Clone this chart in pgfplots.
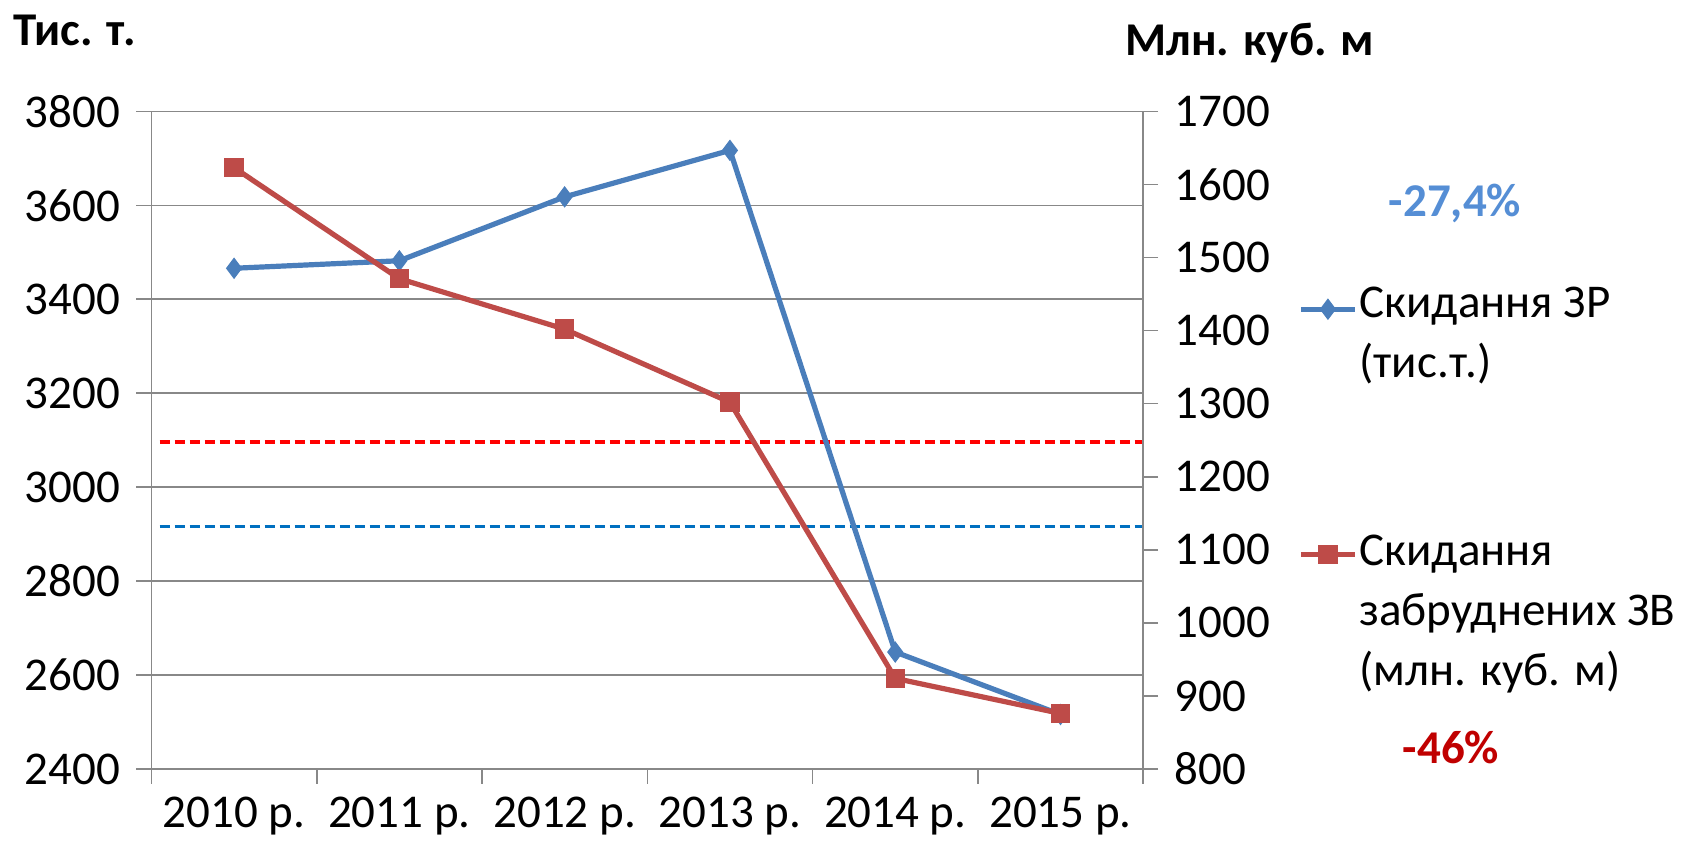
\documentclass[border=0pt]{standalone}
\usepackage{fontspec}
\setmainfont{Carlito}
\usepackage{pgfplots}
\pgfplotsset{compat=1.18}
\definecolor{sblue}{HTML}{4A7EBB}
\definecolor{sred}{HTML}{BE4B48}
\definecolor{gridgray}{HTML}{888888}
\definecolor{pctblue}{HTML}{558ED5}
\definecolor{pctred}{HTML}{C00000}
\definecolor{dashblue}{HTML}{0070C0}
\begin{document}
\fontsize{23.5}{30}\selectfont
\begin{tikzpicture}[font=\fontsize{23.5}{30}\selectfont]
\useasboundingbox (0,0) rectangle (848pt,427pt);
\pgfplotsset{
  common/.style={
    at={(75.7pt,42.5pt)}, anchor=south west,
    scale only axis, width=495.9pt, height=328.8pt,
    xmin=-0.5, xmax=5.5,
    axis line style={gridgray, line width=0.8pt},
    tick align=outside, major tick length=7.5pt,
    tick style={gridgray, line width=0.8pt},
    tick label style={font=\fontsize{23.5}{30}\selectfont, inner sep=0pt},
    /pgf/number format/assume math mode=true,
    /pgf/number format/1000 sep={},
    legend style={draw=none, fill=none, inner sep=0pt, font=\fontsize{23.5}{30}\selectfont,
      nodes={align=left, inner sep=1pt}},
    legend cell align=left,
  },
  limg/.style={legend image code/.code={%
    \path (0pt,-#1) (27pt,#1);
    \draw[mark repeat=2,mark phase=2, yshift=#1] plot coordinates {(0pt,0pt) (13.5pt,0pt) (27pt,0pt)};}},
}
\begin{axis}[common, limg=13.5pt,
  ymin=2400, ymax=3800,
  axis x line*=bottom, axis y line*=left,
  ytick={2400,2600,...,3800},
  ymajorgrids, grid style={gridgray, line width=0.8pt},
  xtick={-0.5,0.5,1.5,2.5,3.5,4.5,5.5}, xticklabels={},
  extra x ticks={0,1,2,3,4,5},
  extra x tick labels={2010 р.,2011 р.,2012 р.,2013 р.,2014 р.,2015 р.},
  extra x tick style={major tick length=0pt, xticklabel style={yshift=-14pt}},
  yticklabel style={xshift=-8pt},
  legend style={at={(1.156,0.736)}, anchor=north west},
]
\addplot[red, line width=1.6pt, dash pattern=on 5pt off 2.5pt, forget plot] coordinates {(-0.45,3096) (5.5,3096)};
\addplot[dashblue, line width=1.6pt, dash pattern=on 5pt off 2.5pt, forget plot] coordinates {(-0.45,2916) (5.5,2916)};
\addplot[sblue, line width=2.6pt, mark=diamond*, mark size=5pt, mark options={fill=sblue, line width=0.5pt}]
  coordinates {(0,3466) (1,3482) (2,3618) (3,3717) (4,2649) (5,2516)};
\addlegendentry{Скидання ЗР\\(тис.т.)}
\end{axis}
\begin{axis}[common, limg=29.5pt,
  ymin=800, ymax=1700,
  axis y line*=right, axis x line=none,
  ytick={800,900,...,1700},
  yticklabel style={xshift=8pt},
  legend style={at={(1.156,0.36)}, anchor=north west},
]
\addplot[sred, line width=2.6pt, mark=square*, mark size=4.6pt, mark options={fill=sred, line width=0.5pt}]
  coordinates {(0,1623) (1,1471) (2,1402) (3,1302) (4,924) (5,876)};
\addlegendentry{Скидання\\забруднених ЗВ\\(млн. куб. м)}
\end{axis}
\node[anchor=west, font=\fontsize{23.5}{30}\selectfont\bfseries, inner sep=0pt] at (6.5pt,412pt) {Тис. т.};
\node[anchor=west, font=\fontsize{23.5}{30}\selectfont\bfseries, inner sep=0pt] at (562.5pt,405.5pt) {Млн. куб. м};
\node[font=\fontsize{23.5}{30}\selectfont\bfseries, text=pctblue, inner sep=0pt] at (727.5pt,325.5pt) {-27,4\%};
\node[font=\fontsize{23.5}{30}\selectfont\bfseries, text=pctred, inner sep=0pt] at (725.5pt,53pt) {-46\%};
\end{tikzpicture}
\end{document}
